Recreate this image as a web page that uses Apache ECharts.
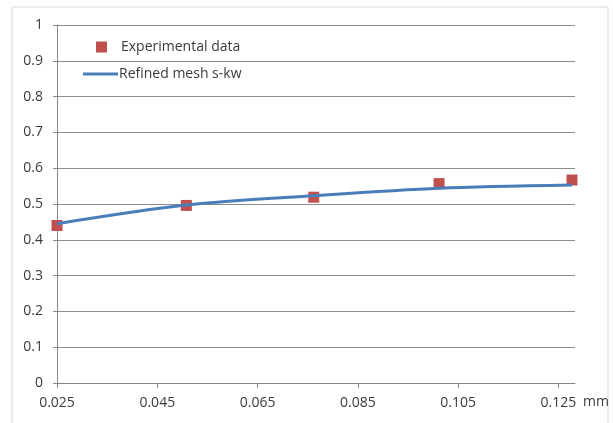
<!DOCTYPE html>
<html>
<head>
<meta charset="utf-8">
<script src="https://cdn.jsdelivr.net/npm/echarts@6/dist/echarts.min.js"></script>
<style>
html,body{margin:0;padding:0;background:#fff;}
#chart{width:613px;height:423px;}
</style>
</head>
<body>
<div id="chart"></div>
<script>
// Data
var expX = [0.025, 0.0508, 0.0762, 0.1012, 0.1277];
var expY = [0.44, 0.496, 0.519, 0.557, 0.567];
var simX = [0.025, 0.0508, 0.0762, 0.1012, 0.1277];
var simY = [0.445, 0.497, 0.523, 0.544, 0.553];
var xTicks = [0.025, 0.045, 0.065, 0.085, 0.105, 0.125];
var seriesNames = ['Experimental data', 'Refined mesh s-kw'];
var xUnit = 'mm';

var FONT = 'Open Sans';
var TXT = '#3a3a3a';

var chart = echarts.init(document.getElementById('chart'), null, {renderer: 'canvas'});
chart.setOption({
  animation: false,
  backgroundColor: '#fff',
  textStyle: {fontFamily: FONT},
  grid: {left: 57, right: 38, top: 25, bottom: 40, containLabel: false},
  xAxis: {
    type: 'value',
    min: 0.025,
    max: 0.1283,
    interval: 0.02,
    axisLine: {show: true, lineStyle: {color: '#868686', width: 1}},
    axisTick: {show: true, length: 5, customValues: xTicks, lineStyle: {color: '#868686'}},
    axisLabel: {customValues: xTicks, margin: 13, color: TXT, fontSize: 14, fontFamily: FONT,
      formatter: function (v) { return v.toFixed(3); }},
    splitLine: {show: false}
  },
  yAxis: {
    type: 'value',
    min: 0,
    max: 1,
    interval: 0.1,
    axisLine: {show: true, lineStyle: {color: '#868686', width: 1}},
    axisTick: {show: true, length: 4, lineStyle: {color: '#868686'}},
    axisLabel: {margin: 14, color: TXT, fontSize: 14, fontFamily: FONT,
      formatter: function (v) { return v === 0 ? '0' : (v === 1 ? '1' : v.toFixed(1)); }},
    splitLine: {show: true, lineStyle: {color: '#8c8c8c', width: 1}}
  },
  legend: [
    {
      data: [seriesNames[0]],
      left: 91, top: 35,
      itemWidth: 11, itemHeight: 11,
      textStyle: {color: TXT, fontSize: 14, fontFamily: FONT, padding: [0, 0, 0, 9]}
    },
    {
      data: [{name: seriesNames[1], icon: 'rect'}],
      left: 78, top: 62,
      itemWidth: 35, itemHeight: 3,
      textStyle: {color: TXT, fontSize: 14, fontFamily: FONT, padding: [0, 0, 0, -4]}
    }
  ],
  graphic: [
    {type: 'rect', shape: {x: 12, y: 7, width: 596, height: 430},
     style: {fill: 'none', stroke: '#d9d9d9', lineWidth: 1}, silent: true},
    {type: 'text', left: 583, top: 395,
     style: {text: xUnit, fill: TXT, font: '14px "Open Sans"'}}
  ],
  series: [
    {
      name: seriesNames[0],
      type: 'scatter',
      symbol: 'rect',
      symbolSize: 11,
      itemStyle: {color: '#c0504d', opacity: 1},
      z: 2,
      data: expX.map(function (x, i) { return [x, expY[i]]; })
    },
    {
      name: seriesNames[1],
      type: 'line',
      smooth: 0.3,
      showSymbol: false,
      symbol: 'none',
      lineStyle: {color: '#4a7ebb', width: 3},
      itemStyle: {color: '#4a7ebb'},
      z: 3,
      data: simX.map(function (x, i) { return [x, simY[i]]; })
    }
  ]
});
</script>
</body>
</html>
